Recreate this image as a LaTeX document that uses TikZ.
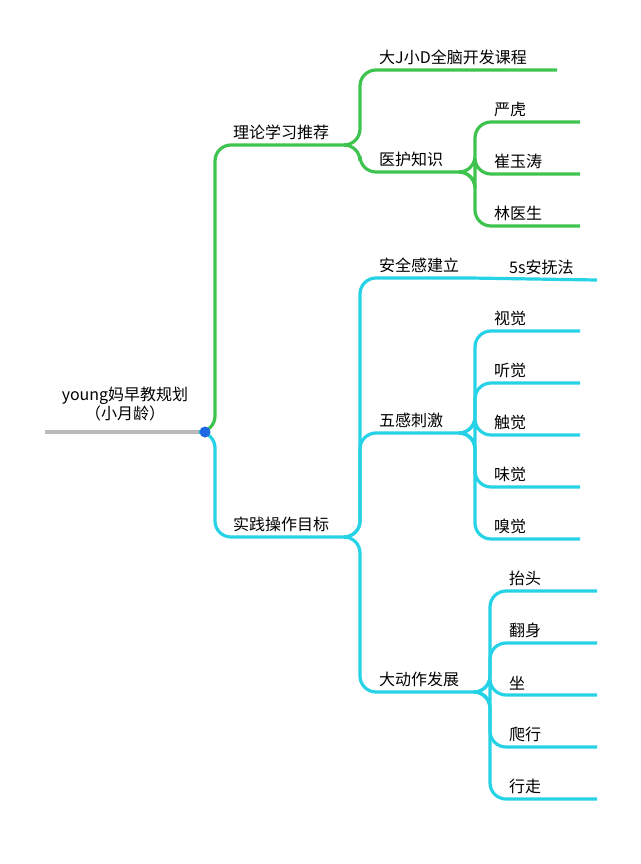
\documentclass[tikz,border=0pt]{standalone}
\usepackage{fontspec}
\newfontfamily\cjk{Noto Sans CJK SC}
\definecolor{leafgreen}{RGB}{62,196,78}
\definecolor{leafcyan}{RGB}{38,210,230}
\definecolor{rootgray}{RGB}{185,185,185}
\definecolor{dotblue}{RGB}{30,105,225}
\newcommand{\twig}[3]{\draw[edge,#1] (#2) -- ++(10,0) |- (#3);}

\begin{document}
\begin{tikzpicture}[x=1pt, y=-1pt,
    lbl/.style={font=\cjk\fontsize{16}{19}\selectfont, inner sep=1pt},
    edge/.style={line width=3.2pt, rounded corners=16pt}]
        \useasboundingbox (0,0) rectangle (640,864);

        % root
        \coordinate (root) at (205,432);
        \draw[rootgray, line width=3.2pt] (45,432) -- (root);
        \node[lbl, align=center] (title) at (125,404) {young妈早教规划\\（小月龄）};

        % green side
        \coordinate (theory) at (350,145);
        \twig{leafgreen}{root}{theory}
        \node[lbl, anchor=south west] (theoryT) at (232,141) {理论学习推荐};
        \coordinate (course) at (557,70);
        \twig{leafgreen}{theory}{course}
        \node[lbl, anchor=south west] (courseT) at (378,66) {大J小D全脑开发课程};
        \coordinate (med) at (465,172);
        \twig{leafgreen}{theory}{med}
        \node[lbl, anchor=south west] (medT) at (378,168) {医护知识};
        \foreach \y/\t in {122/严虎, 174/崔玉涛, 226/林医生}{
            \coordinate (m\y) at (580,\y);
            \twig{leafgreen}{med}{m\y}
            \node[lbl, anchor=south west] at (493,\y-4) {\t};
        }

        % cyan side
        \coordinate (practice) at (350,537);
        \twig{leafcyan}{root}{practice}
        \node[lbl, anchor=south west] (practiceT) at (232,533) {实践操作目标};
        \coordinate (safe) at (470,278);
        \twig{leafcyan}{practice}{safe}
        \node[lbl, anchor=south west] (safeT) at (378,274) {安全感建立};
        \coordinate (soothe) at (597,280);
        \draw[edge,leafcyan] (safe) -- (soothe);
        \node[lbl, anchor=south west] (sootheT) at (508,276) {5s安抚法};

        \coordinate (senses) at (465,433);
        \twig{leafcyan}{practice}{senses}
        \node[lbl, anchor=south west] (sensesT) at (378,429) {五感刺激};
        \foreach \y/\t in {331/视觉, 383/听觉, 435/触觉, 487/味觉, 539/嗅觉}{
            \coordinate (s\y) at (580,\y);
            \twig{leafcyan}{senses}{s\y}
            \node[lbl, anchor=south west] at (493,\y-4) {\t};
        }

        \coordinate (motor) at (480,692);
        \twig{leafcyan}{practice}{motor}
        \node[lbl, anchor=south west] (motorT) at (378,688) {大动作发展};
        \foreach \y/\t in {591/抬头, 643/翻身, 695/坐, 747/爬行, 799/行走}{
            \coordinate (g\y) at (597,\y);
            \twig{leafcyan}{motor}{g\y}
            \node[lbl, anchor=south west] at (508,\y-4) {\t};
        }

        \fill[dotblue] (root) circle (5.5pt);
\end{tikzpicture}
\end{document}
